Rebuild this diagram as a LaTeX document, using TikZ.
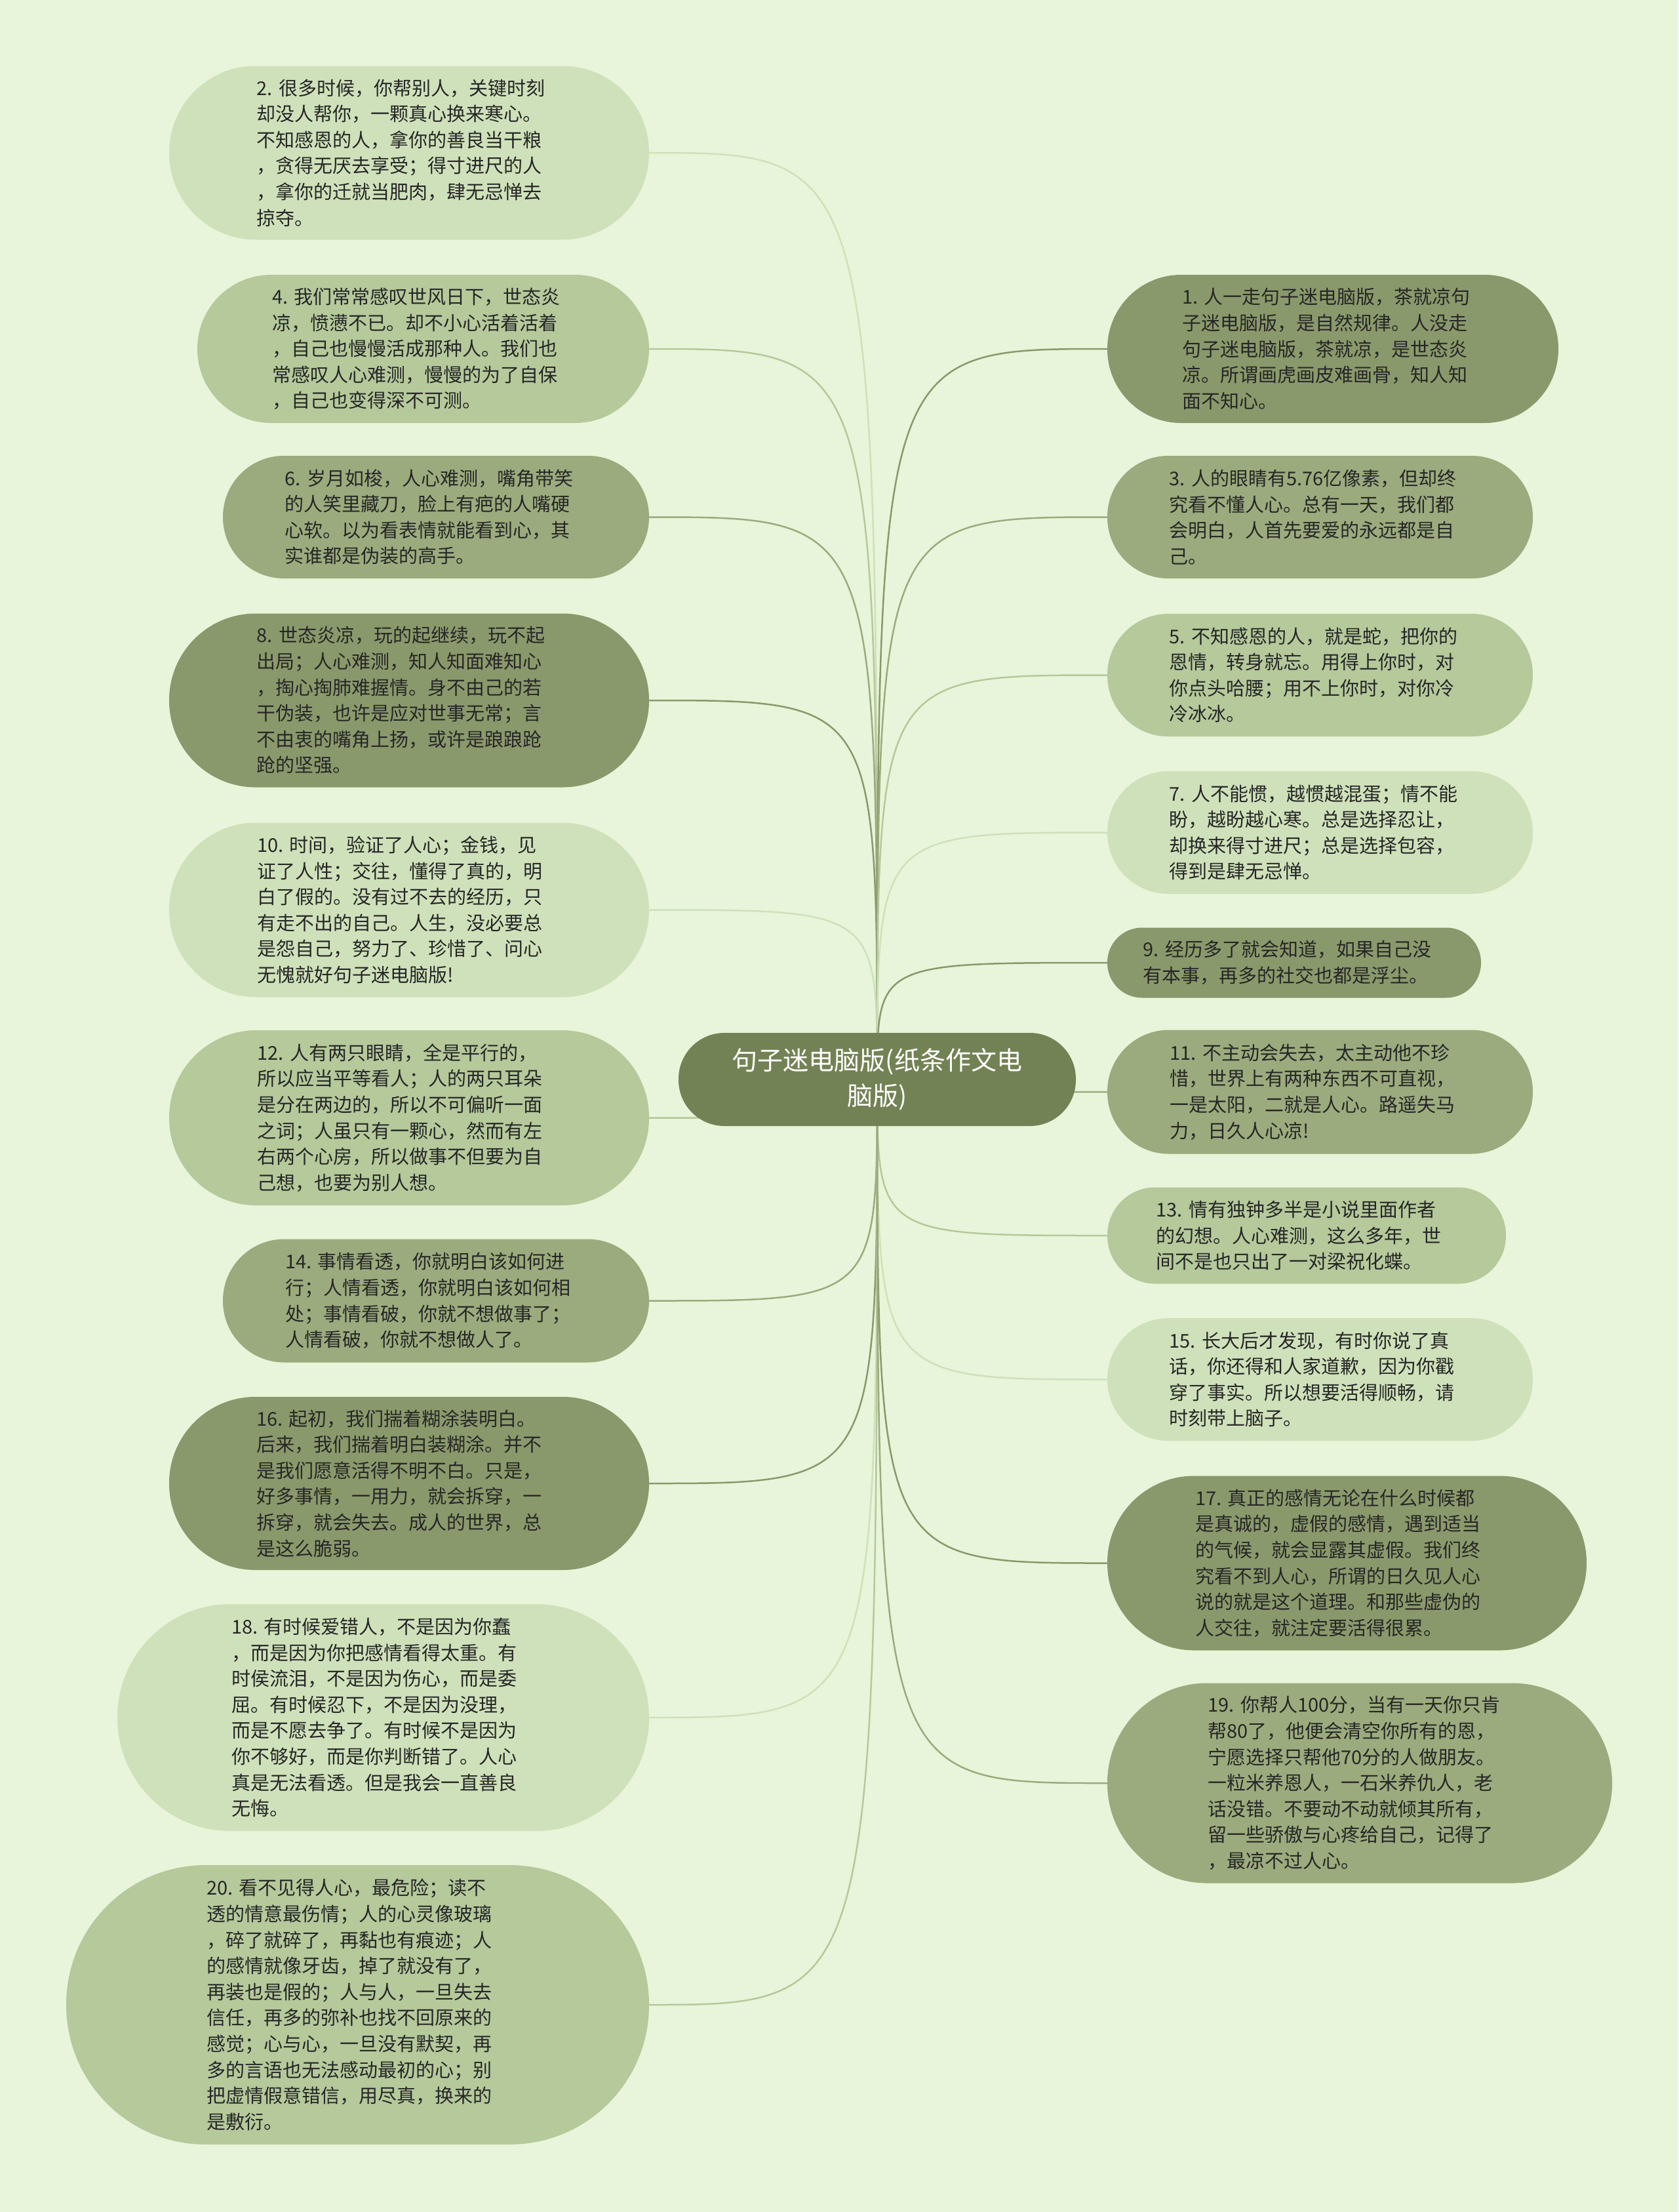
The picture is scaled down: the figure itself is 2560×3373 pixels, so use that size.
\documentclass[tikz,border=0pt]{standalone}
\usepackage{fontspec}
\newfontfamily\cjk{Noto Sans CJK SC}
\usetikzlibrary{positioning}
\definecolor{paper}{HTML}{E8F5DA}
\definecolor{hubfill}{HTML}{738254}
\definecolor{leafA}{HTML}{8A996B}
\definecolor{leafB}{HTML}{9BAB7D}
\definecolor{leafC}{HTML}{B5C99B}
\definecolor{leafD}{HTML}{CFE1BA}
\definecolor{ink}{HTML}{262626}
\tikzset{
     leaf/.style n args={3}{fill=#1, minimum width=#2, minimum height=#3,
        rounded corners=#3/2-0.5, inner sep=0pt, align=left, text=ink,
        /utils/exec={\pgfmathsetmacro\leafwd{#2-#3-2}}, text width=\leafwd pt,
        font=\cjk\fontsize{29}{39.6}\selectfont\frenchspacing},
     hubnode/.style={fill=hubfill, minimum width=606, minimum height=142,
        rounded corners=70, inner sep=0pt, align=center, text=white,
        font=\cjk\fontsize{39}{54}\selectfont},
     link/.style={line width=2.5pt}
     }
\pgfdeclarelayer{backdrop}
\pgfdeclarelayer{links}
\pgfsetlayers{backdrop,links,main}
\begin{document}
\begin{tikzpicture}[x=1pt, y=-1pt]
                    \useasboundingbox (0,0) rectangle (2560,3373);
                    \begin{pgfonlayer}{backdrop}
                    \fill[paper] (0,0) rectangle (2560,3373);
                    \end{pgfonlayer}
                    % Place nodes
                    \node [hubnode] (hub) at (1338,1646) {句子迷电脑版(纸条作文电\\脑版)};
                    % left side
                    \node [leaf={leafD}{732}{265}] (n2) at (624,233) {2. 很多时候，你帮别人，关键时刻\\却没人帮你，一颗真心换来寒心。\\不知感恩的人，拿你的善良当干粮\\，贪得无厌去享受；得寸进尺的人\\，拿你的迁就当肥肉，肆无忌惮去\\掠夺。};
                    \node [leaf={leafC}{689}{226}] (n4) at (645.5,532) {4. 我们常常感叹世风日下，世态炎\\凉，愤懑不已。却不小心活着活着\\，自己也慢慢活成那种人。我们也\\常感叹人心难测，慢慢的为了自保\\，自己也变得深不可测。};
                    \node [leaf={leafB}{650}{187}] (n6) at (665,788.5) {6. 岁月如梭，人心难测，嘴角带笑\\的人笑里藏刀，脸上有疤的人嘴硬\\心软。以为看表情就能看到心，其\\实谁都是伪装的高手。};
                    \node [leaf={leafA}{732}{265}] (n8) at (624,1068) {8. 世态炎凉，玩的起继续，玩不起\\出局；人心难测，知人知面难知心\\，掏心掏肺难握情。身不由己的若\\干伪装，也许是应对世事无常；言\\不由衷的嘴角上扬，或许是踉踉跄\\跄的坚强。};
                    \node [leaf={leafD}{732}{266}] (n10) at (624,1387.5) {10. 时间，验证了人心；金钱，见\\证了人性；交往，懂得了真的，明\\白了假的。没有过不去的经历，只\\有走不出的自己。人生，没必要总\\是怨自己，努力了、珍惜了、问心\\无愧就好句子迷电脑版!};
                    \node [leaf={leafC}{732}{267}] (n12) at (624,1704.5) {12. 人有两只眼睛，全是平行的，\\所以应当平等看人；人的两只耳朵\\是分在两边的，所以不可偏听一面\\之词；人虽只有一颗心，然而有左\\右两个心房，所以做事不但要为自\\己想，也要为别人想。};
                    \node [leaf={leafB}{650}{188}] (n14) at (665,1983.5) {14. 事情看透，你就明白该如何进\\行；人情看透，你就明白该如何相\\处；事情看破，你就不想做事了；\\人情看破，你就不想做人了。};
                    \node [leaf={leafA}{732}{264}] (n16) at (624,2262) {16. 起初，我们揣着糊涂装明白。\\后来，我们揣着明白装糊涂。并不\\是我们愿意活得不明不白。只是，\\好多事情，一用力，就会拆穿，一\\拆穿，就会失去。成人的世界，总\\是这么脆弱。};
                    \node [leaf={leafD}{811}{346}] (n18) at (584.5,2619) {18. 有时候爱错人，不是因为你蠢\\，而是因为你把感情看得太重。有\\时侯流泪，不是因为伤心，而是委\\屈。有时候忍下，不是因为没理，\\而是不愿去争了。有时候不是因为\\你不够好，而是你判断错了。人心\\真是无法看透。但是我会一直善良\\无悔。};
                    \node [leaf={leafC}{889}{426}] (n20) at (545.5,3057) {20. 看不见得人心，最危险；读不\\透的情意最伤情；人的心灵像玻璃\\，碎了就碎了，再黏也有痕迹；人\\的感情就像牙齿，掉了就没有了，\\再装也是假的；人与人，一旦失去\\信任，再多的弥补也找不回原来的\\感觉；心与心，一旦没有默契，再\\多的言语也无法感动最初的心；别\\把虚情假意错信，用尽真，换来的\\是敷衍。};
                    % right side
                    \node [leaf={leafA}{688}{226}] (n1) at (2033,532) {1. 人一走句子迷电脑版，茶就凉句\\子迷电脑版，是自然规律。人没走\\句子迷电脑版，茶就凉，是世态炎\\凉。所谓画虎画皮难画骨，知人知\\面不知心。};
                    \node [leaf={leafB}{649}{187}] (n3) at (2013.5,788.5) {3. 人的眼睛有5.76亿像素，但却终\\究看不懂人心。总有一天，我们都\\会明白，人首先要爱的永远都是自\\己。};
                    \node [leaf={leafC}{649}{187}] (n5) at (2013.5,1029.5) {5. 不知感恩的人，就是蛇，把你的\\恩情，转身就忘。用得上你时，对\\你点头哈腰；用不上你时，对你冷\\冷冰冰。};
                    \node [leaf={leafD}{649}{187}] (n7) at (2013.5,1269.5) {7. 人不能惯，越惯越混蛋；情不能\\盼，越盼越心寒。总是选择忍让，\\却换来得寸进尺；总是选择包容，\\得到是肆无忌惮。};
                    \node [leaf={leafA}{570}{107}] (n9) at (1974,1468) {9. 经历多了就会知道，如果自己没\\有本事，再多的社交也都是浮尘。};
                    \node [leaf={leafB}{649}{189}] (n11) at (2013.5,1665) {11. 不主动会失去，太主动他不珍\\惜，世界上有两种东西不可直视，\\一是太阳，二就是人心。路遥失马\\力，日久人心凉!};
                    \node [leaf={leafC}{608}{147}] (n13) at (1993,1884) {13. 情有独钟多半是小说里面作者\\的幻想。人心难测，这么多年，世\\间不是也只出了一对梁祝化蝶。};
                    \node [leaf={leafD}{649}{187}] (n15) at (2013.5,2103.5) {15. 长大后才发现，有时你说了真\\话，你还得和人家道歉，因为你戳\\穿了事实。所以想要活得顺畅，请\\时刻带上脑子。};
                    \node [leaf={leafA}{731}{266}] (n17) at (2054.5,2383.5) {17. 真正的感情无论在什么时候都\\是真诚的，虚假的感情，遇到适当\\的气候，就会显露其虚假。我们终\\究看不到人心，所谓的日久见人心\\说的就是这个道理。和那些虚伪的\\人交往，就注定要活得很累。};
                    \node [leaf={leafB}{770}{305}] (n19) at (2074,2719) {19. 你帮人100分，当有一天你只肯\\帮80了，他便会清空你所有的恩，\\宁愿选择只帮他70分的人做朋友。\\一粒米养恩人，一石米养仇人，老\\话没错。不要动不动就倾其所有，\\留一些骄傲与心疼给自己，记得了\\，最凉不过人心。};
                    % Draw edges
                    \begin{pgfonlayer}{links}
                    \foreach \leafname/\tint in {n2/leafD,n4/leafC,n6/leafB,n8/leafA,n10/leafD,n12/leafC,n14/leafB,n16/leafA,n18/leafD,n20/leafC}
                        \draw[link, draw=\tint] (hub.center) .. controls (hub.center |- \leafname.east) .. (\leafname.east);
                    \foreach \leafname/\tint in {n1/leafA,n3/leafB,n5/leafC,n7/leafD,n9/leafA,n11/leafB,n13/leafC,n15/leafD,n17/leafA,n19/leafB}
                        \draw[link, draw=\tint] (hub.center) .. controls (hub.center |- \leafname.west) .. (\leafname.west);
                    \end{pgfonlayer}
                \end{tikzpicture}
\end{document}
